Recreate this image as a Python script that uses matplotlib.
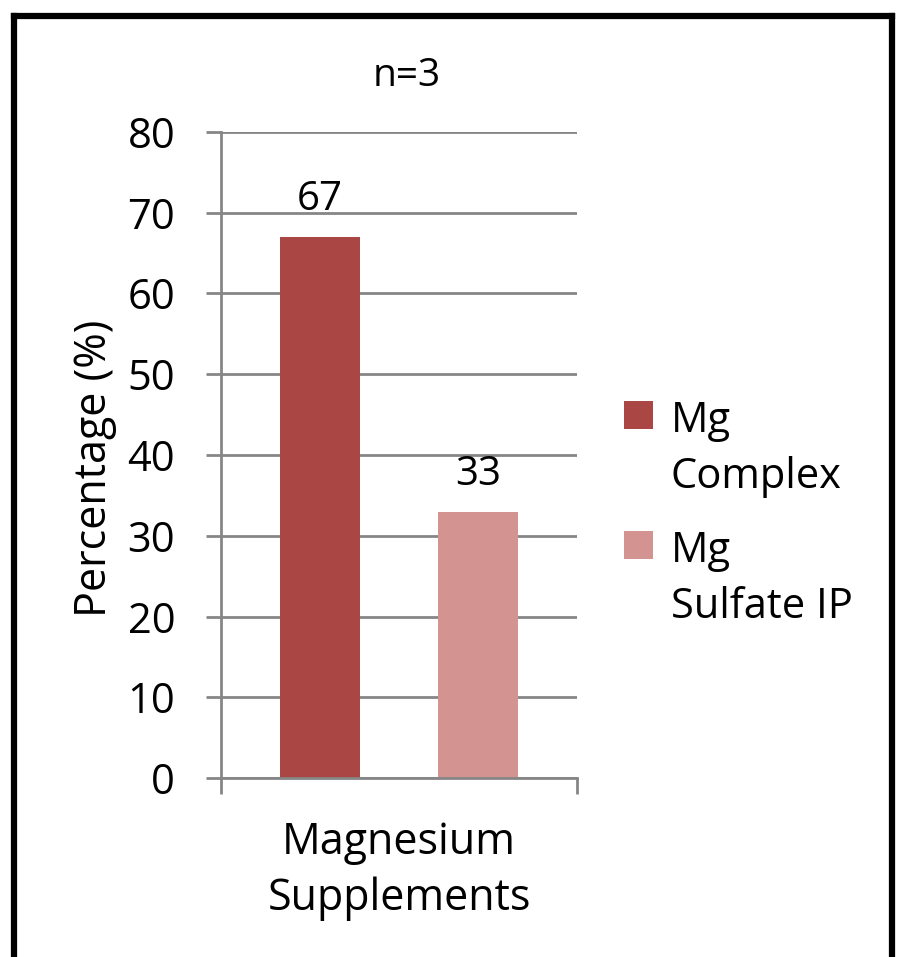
import matplotlib

matplotlib.use("Agg")
import matplotlib.pyplot as plt
from matplotlib.container import BarContainer
from matplotlib.lines import Line2D
from matplotlib.patches import Rectangle
from matplotlib.legend_handler import HandlerPatch, update_from_first_child

# chart data
category = "Magnesium\nSupplements"
series_names = ["Mg\nComplex", "Mg\nSulfate IP"]
series_values = [67, 33]
series_colors = ["#AA4744", "#D39391"]
y_ticks = [0, 10, 20, 30, 40, 50, 60, 70, 80]

plt.rcParams["font.family"] = ["Open Sans", "DejaVu Sans"]

fig = plt.figure(figsize=(8.99, 9.57), dpi=100)
ax = fig.add_axes([0.2458, 0.1870, 0.3960, 0.6751])

grid_color = "#868686"
offsets = [-0.222, 0.222]
for name, value, color, off in zip(series_names, series_values, series_colors, offsets):
    ax.bar(off, value, width=0.226, color=color, label=name, zorder=3)
    ax.annotate(f"{value}", (off, value), xytext=(0, 12), textcoords="offset points",
                ha="center", va="bottom", fontsize=29, zorder=4)

ax.set_xlim(-0.5, 0.5)
ax.set_ylim(0, 80)
ax.set_yticks(y_ticks)
ax.tick_params(axis="y", length=11, width=2, color=grid_color, labelsize=30, pad=22)
ax.yaxis.grid(True, color=grid_color, linewidth=2, zorder=0)
ax.set_xticks([-0.5, 0.5])
ax.set_xticklabels(["", ""])
ax.tick_params(axis="x", length=11.5, width=2, color=grid_color)
ax.text(0, -0.066, category, transform=ax.get_xaxis_transform(), ha="center", va="top",
        fontsize=31, linespacing=1.35)

for side in ["top", "right"]:
    ax.spines[side].set_visible(False)
for side in ["left", "bottom"]:
    ax.spines[side].set_color(grid_color)
    ax.spines[side].set_linewidth(2)
    ax.spines[side].set_zorder(5)

ax.set_ylabel("Percentage (%)", fontsize=31)
ax.yaxis.set_label_coords(-0.292, 0.48)
fig.text(0.452, 0.921, "n=3", ha="center", va="center", fontsize=28)


def first_line_square(legend, orig_handle, xdescent, ydescent, width, height, fontsize):
    # keep the swatch level with the first line of a two-line label
    return Rectangle((-xdescent, -ydescent + 0.85 * fontsize), width, height)


swatch = HandlerPatch(patch_func=first_line_square, update_func=update_from_first_child)
leg = ax.legend(loc="upper left", bbox_to_anchor=(1.132, 0.585), frameon=False, fontsize=30,
                handlelength=0.7, handleheight=0.65, handletextpad=0.42, labelspacing=0.75,
                borderaxespad=0, borderpad=0, handler_map={BarContainer: swatch})
for t in leg.get_texts():
    t.set_linespacing(1.45)

# outer frame, open at the bottom edge
frame_kw = dict(color="black", linewidth=4.5, solid_capstyle="projecting")
fig.add_artist(Line2D([0.0157, 0.0157], [-0.05, 0.9835], transform=fig.transFigure, **frame_kw))
fig.add_artist(Line2D([0.9922, 0.9922], [-0.05, 0.9835], transform=fig.transFigure, **frame_kw))
fig.add_artist(Line2D([0.0157, 0.9922], [0.9835, 0.9835], transform=fig.transFigure, **frame_kw))

fig.savefig("out.png", dpi=100)
